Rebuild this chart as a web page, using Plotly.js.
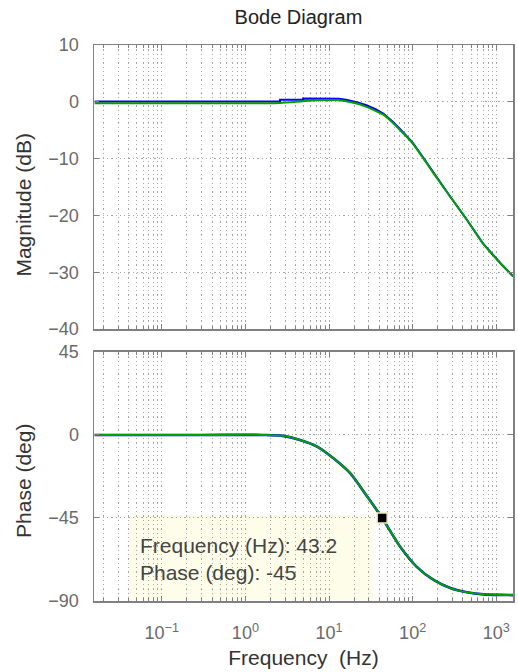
<!DOCTYPE html>
<html>
<head>
<meta charset="utf-8">
<script src="https://cdn.plot.ly/plotly-3.0.1.min.js"></script>
<style>html,body{margin:0;padding:0;background:#fff;}#chart{width:518px;height:672px;}</style>
</head>
<body>
<div id="chart"></div>
<script>
// Magnitude (dB) — blue series
const magFreqBlue = [0.0158, 1, 2.6, 2.6, 4.9, 4.9, 10, 13, 16, 22, 28, 36, 45, 57, 71, 100, 135, 178, 282, 447, 692, 1122, 1585];
const magBlue     = [0.05, 0.05, 0.05, 0.35, 0.35, 0.6, 0.6, 0.55, 0.35, -0.1, -0.6, -1.3, -2.1, -3.4, -4.8, -7.2, -9.9, -12.5, -16.7, -20.8, -24.9, -28.4, -30.7];
// Magnitude (dB) — green series
const magFreqGreen = [0.0158, 1, 2.6, 4.9, 8, 12, 16, 22, 28, 36, 45, 57, 71, 100, 135, 178, 282, 447, 692, 1122, 1585];
const magGreen     = [-0.25, -0.25, -0.2, 0.1, 0.3, 0.3, 0.1, -0.35, -0.9, -1.6, -2.3, -3.6, -5.0, -7.3, -10.0, -12.6, -16.7, -20.8, -24.9, -28.4, -30.7];
// Phase (deg)
const phFreq  = [0.0158, 0.3, 1.6, 2.8, 4.5, 7.2, 11.2, 17.8, 28.2, 43.2, 71, 112, 178, 282, 447, 708, 1122, 1585];
const phBlue  = [0, 0, 0, -0.5, -2.7, -6.3, -12.5, -20.6, -33, -45, -60.6, -71.5, -78.6, -83, -85.3, -86.4, -86.7, -86.8];
const phGreen = [0, 0, 0, -0.5, -2.7, -6.3, -12.5, -20.6, -33, -45, -60.6, -71.5, -78.6, -83, -85.3, -86.4, -86.7, -86.8];
// Data tip
const tipFreq = [43.2];
const tipPhase = [-45];
const tipLines = ["Frequency (Hz): 43.2", "Phase (deg): -45"];
// Axis ticks and titles
const xTickVals = [0.1, 1, 10, 100, 1000];
const xTickText = ["10<sup>−1</sup>", "10<sup>0</sup>", "10<sup>1</sup>", "10<sup>2</sup>", "10<sup>3</sup>"];
const magTitle = "Magnitude (dB)";
const phTitle = "Phase (deg)";
const freqTitle = "Frequency  (Hz)";

const minorVals = [];
for (let e = -2; e <= 3; e++) for (let m = 2; m <= 9; m++) minorVals.push(m * Math.pow(10, e));

const gridCol = '#a8a8a8';
const gridDash = '1.3px,3px';
const frameCol = '#808080';
const fam = 'Liberation Sans, Arial, sans-serif';
const tickFont = {family: fam, size: 18, color: '#6a6a6a'};
const titleFont = {family: fam, size: 21, color: '#333'};

function xAxis(anchor, labels) {
  return {
    anchor: anchor, type: 'log', range: [-1.81, 3.2],
    showline: true, mirror: 'ticks', linecolor: frameCol, linewidth: 1.5,
    ticks: 'inside', ticklen: 5, tickcolor: frameCol,
    tickmode: 'array', tickvals: xTickVals, ticktext: xTickText,
    showticklabels: labels, tickfont: tickFont, ticklabelstandoff: 15,
    showgrid: true, gridcolor: gridCol, griddash: gridDash, gridwidth: 1,
    zeroline: false,
    minor: {tickmode: 'array', tickvals: minorVals, ticks: 'inside', ticklen: 3, tickcolor: frameCol,
            showgrid: true, gridcolor: gridCol, griddash: gridDash, gridwidth: 1}
  };
}
function yAxis(anchor, domain, range, dtick) {
  return {
    anchor: anchor, domain: domain, range: range, dtick: dtick, tick0: 0,
    showline: true, mirror: 'ticks', linecolor: frameCol, linewidth: 1.5,
    ticks: 'inside', ticklen: 5, tickcolor: frameCol,
    tickfont: tickFont, ticklabelstandoff: 10,
    showgrid: true, gridcolor: gridCol, griddash: gridDash, gridwidth: 1,
    zeroline: false
  };
}

const blue = '#0000ff', green = '#00a000';
const traces = [
  {x: magFreqBlue, y: magBlue, xaxis: 'x', yaxis: 'y', mode: 'lines', line: {color: blue, width: 2}},
  {x: magFreqGreen, y: magGreen, xaxis: 'x', yaxis: 'y', mode: 'lines', line: {color: green, width: 2, shape: 'spline', smoothing: 0.6}},
  {x: phFreq, y: phBlue, xaxis: 'x2', yaxis: 'y2', mode: 'lines', line: {color: blue, width: 2.6, shape: 'spline', smoothing: 0.8}},
  {x: phFreq, y: phGreen, xaxis: 'x2', yaxis: 'y2', mode: 'lines', line: {color: green, width: 2, shape: 'spline', smoothing: 0.8}},
  {x: tipFreq, y: tipPhase, xaxis: 'x2', yaxis: 'y2', mode: 'markers',
   marker: {symbol: 'square', size: 10, color: '#000', line: {color: '#efe9b8', width: 1.5}}}
];

const layout = {
  width: 518, height: 672,
  margin: {l: 94, r: 5, t: 45, b: 71},
  paper_bgcolor: '#fff', plot_bgcolor: '#fff',
  showlegend: false,
  title: {text: 'Bode Diagram', font: {family: fam, size: 20, color: '#222'},
          x: 0.488, xref: 'paper', xanchor: 'center', y: 0.974, yref: 'container', yanchor: 'middle'},
  xaxis: xAxis('y', false),
  xaxis2: Object.assign(xAxis('y2', true), {title: {text: freqTitle, font: titleFont, standoff: 8}}),
  yaxis: yAxis('x', [0.489, 1], [-40, 10], 10),
  yaxis2: yAxis('x2', [0, 0.448], [-90, 45], 45),
  shapes: [
    {type: 'rect', xref: 'x2 domain', yref: 'y2 domain', x0: 0.086, x1: 0.666, y0: 0.004, y1: 0.345,
     fillcolor: '#fdfde9', line: {width: 0}, layer: 'below'}
  ],
  annotations: [
    {text: tipLines.join('<br>'), xref: 'x2 domain', yref: 'y2 domain', x: 0.104, y: 0.168,
     xanchor: 'left', yanchor: 'middle', align: 'left', showarrow: false,
     font: {family: fam, size: 21, color: '#444'}},
    {text: magTitle, textangle: -90, xref: 'paper', yref: 'paper', x: -0.167, y: 0.713,
     xanchor: 'center', yanchor: 'middle', showarrow: false, font: titleFont},
    {text: phTitle, textangle: -90, xref: 'paper', yref: 'paper', x: -0.167, y: 0.216,
     xanchor: 'center', yanchor: 'middle', showarrow: false, font: titleFont}
  ]
};

Plotly.newPlot('chart', traces, layout, {displayModeBar: false, staticPlot: true});
</script>
</body>
</html>
